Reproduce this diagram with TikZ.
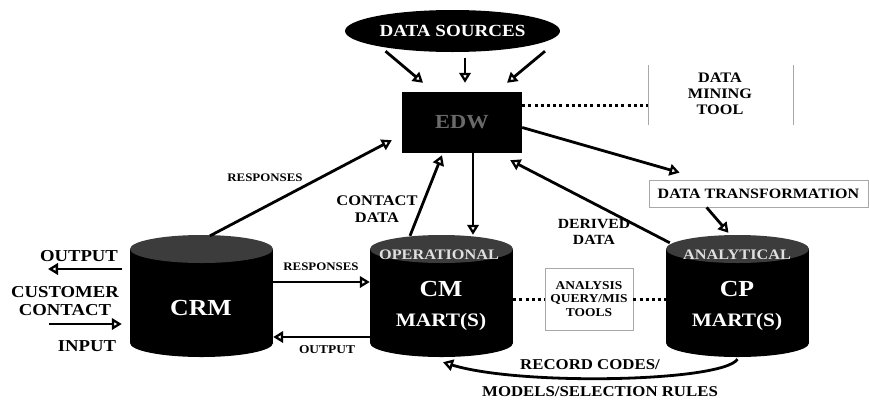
\documentclass[tikz,border=0pt]{standalone}
\usepackage{fontspec}
\setmainfont[FakeStretch=1.12]{Liberation Serif}
\usetikzlibrary{arrows.meta,calc,shapes.geometric}
\definecolor{cyltop}{HTML}{3C3C3C}
\definecolor{edwtext}{HTML}{6A6A6A}
\definecolor{boxline}{HTML}{A8A8A8}
\newcommand{\fsz}[2]{\fontsize{#1}{#2}\selectfont\bfseries}
\begin{document}
\begin{tikzpicture}[x=1pt,y=-1pt,
  arr/.style={line width=2.8pt,-{Triangle[open,length=10pt,width=11.5pt,line width=2.3pt]}},
  dots/.style={line width=3pt,dash pattern=on 3pt off 3.2pt},
  lbl/.style={font=\fsz{11.5}{13}, inner sep=0pt, align=center},
  lblm/.style={font=\fsz{14.7}{17}, inner sep=0pt, align=center},
  lblb/.style={font=\fsz{16.7}{18}, inner sep=0pt, align=center},
  anchorbox/.style={inner sep=0pt, minimum width=143pt, minimum height=122pt},
  graybox/.style={draw=boxline, line width=0.8pt, inner sep=0pt}
]
\useasboundingbox (0,0) rectangle (869,400);
% cylinders
\newcommand{\mycyl}[3]{% cx, left, right
  \fill[black] (#2,249) rectangle (#3,343);
  \fill[black] (#1,343) ellipse [x radius=71.5pt, y radius=14pt];
  \fill[cyltop] (#1,249) ellipse [x radius=71.5pt, y radius=14pt];
}
\mycyl{201.5}{130}{273}
\mycyl{441.5}{370}{513}
\mycyl{737.5}{666}{809}
\node[anchorbox] (crm) at (201.5,296) {};
\node[anchorbox] (cm) at (441.5,296) {};
\node[anchorbox] (cp) at (737.5,296) {};
\node[font=\fsz{23}{25}, text=white, inner sep=0pt] (crmt) at (201,308) {CRM};
\node[font=\fsz{14.5}{16}, text=white!88!black, inner sep=0pt] (opt) at (439,255) {OPERATIONAL};
\node[font=\fsz{23}{25}, text=white, inner sep=0pt] (cmt) at (441,289) {CM};
\node[font=\fsz{19}{21}, text=white, inner sep=0pt] (cmm) at (441,322) {MART(S)};
\node[font=\fsz{14.5}{16}, text=white!88!black, inner sep=0pt] (ant) at (737,255) {ANALYTICAL};
\node[font=\fsz{23}{25}, text=white, inner sep=0pt] (cpt) at (737,289) {CP};
\node[font=\fsz{19}{21}, text=white, inner sep=0pt] (cpm) at (737,322) {MART(S)};
% top
\node[ellipse, fill=black, minimum width=215pt, minimum height=42pt, inner sep=0pt,
  font=\fsz{17}{19}, text=white] (ds) at (452.5,31) {DATA SOURCES};
\node[fill=black, minimum width=120pt, minimum height=61pt, inner sep=0pt,
  font=\fsz{20}{22}, text=edwtext] (edw) at (462,122.5) {EDW};
% data mining tool
\coordinate (dmL) at (648,105);
\draw[boxline, line width=0.8pt] (648,65) -- (648,125);
\draw[boxline, line width=0.8pt] (793,65) -- (793,125);
\node[lblm, font=\fsz{14.5}{16}] (dmt) at (720,94) {DATA\\MINING\\TOOL};
\draw[dots] (edw.east |- dmL) -- (dmL);
% data transformation
\node[graybox, minimum width=219pt, minimum height=27pt, font=\fsz{14.3}{16}] (dt) at (758.5,193.5) {DATA TRANSFORMATION};
% analysis box
\node[graybox, minimum width=88pt, minimum height=62pt, font=\fsz{12}{13.5}, align=center] (an) at (589,299) {ANALYSIS\\QUERY/MIS\\TOOLS};
\draw[dots] (cm.east |- an.west) -- (an.west);
\draw[dots] (an.east) -- (cp.west |- an.east);
% arrows data sources -> edw
\draw[arr] ($(ds.south)+(-67,-1)$) -- ($(edw.north)+(-39,-9)$);
\draw[arr] ($(ds.south)+(12.5,6)$) -- ($(edw.north)+(3,-9)$);
\draw[arr] ($(ds.south)+(92.5,-1)$) -- ($(edw.north)+(45,-9)$);
% connectors to/from EDW
\draw[arr] ($(crm.north)+(8.5,1)$) -- ($(edw.south west)+(-10,-13)$);
\draw[arr] ($(cm.north)+(-31.5,1)$) -- ($(edw.south)+(-20,2)$);
\draw[arr] ($(edw.south)+(11,0)$) -- ($(cm.north)+(31.5,0)$);
\draw[arr] ($(cp.north west)+(4,8)$) -- ($(edw.south east)+(-12,7)$);
\draw[arr] ($(edw.east)+(0,5)$) -- ($(dt.north west)+(31,-7)$);
\draw[arr] ($(dt.south west)+(58,0)$) -- ($(cp.north)+(-9,-2)$);
% crm <-> cm
\draw[arr] ($(crm.east)+(0,-14)$) -- ($(cm.west)+(0,-14)$);
\draw[arr] ($(cm.west)+(0,41)$) -- ($(crm.east)+(0,41)$);
% left side
\coordinate (outL) at (48,269);
\coordinate (inL) at (49,324);
\draw[arr] (crm.west |- outL) ++(-8,0) -- (outL);
\draw[arr] (inL) -- ($(crm.west |- inL)+(-8,0)$);
% record codes curve
\draw[arr] ($(cp.south)+(0,2)$) .. controls (722,382) and (520,386) .. ($(cm.south)+(1.5,5)$);
% labels
\node[lbl] (l1) at (265,178) {RESPONSES};
\node[lblm] (l2) at (377,209) {CONTACT\\DATA};
\node[lblm, font=\fsz{14}{16}] (l3) at (594,232) {DERIVED\\DATA};
\node[lbl] (l4) at (321,267) {RESPONSES};
\node[lbl, font=\fsz{12}{13}] (l5) at (327,350) {OUTPUT};
\node[lblb] (l6) at (79,256) {OUTPUT};
\node[lblb] (l7) at (65,301) {CUSTOMER\\CONTACT};
\node[lblb] (l8) at (87,346) {INPUT};
\node[lblm, font=\fsz{15}{17}] (l9) at (590,365) {RECORD CODES/};
\node[lblm, font=\fsz{15}{17}] (l10) at (600,392) {MODELS/SELECTION RULES};
\end{tikzpicture}
\end{document}
